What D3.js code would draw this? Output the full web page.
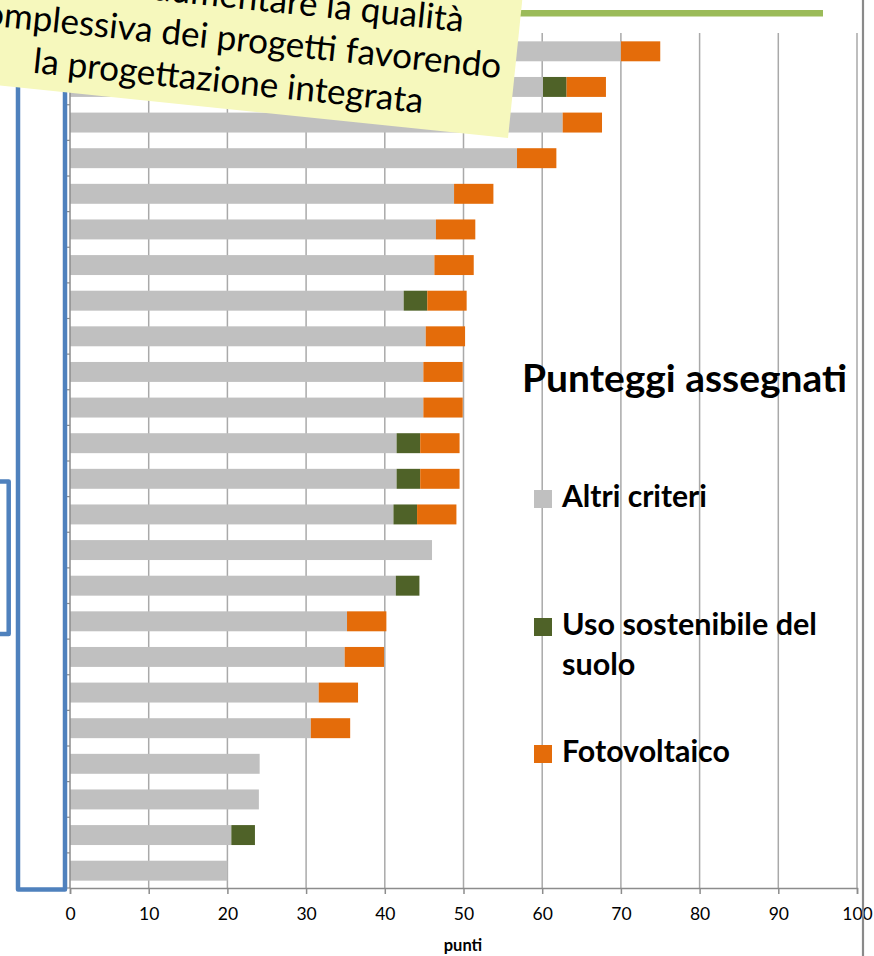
<!DOCTYPE html>
<html>
<head>
<meta charset="utf-8">
<script src="https://cdn.jsdelivr.net/npm/d3@7"></script>
<style>
  html, body { margin: 0; padding: 0; background: #ffffff; }
  svg { display: block; font-family: Lato, "Open Sans", sans-serif; }
</style>
</head>
<body>
<svg id="chart" width="874" height="956"></svg>
<script>
// ---- data ----
const categories = ["P1","P2","P3","P4","P5","P6","P7","P8","P9","P10","P11","P12",
                    "P13","P14","P15","P16","P17","P18","P19","P20","P21","P22","P23","P24"];
const altriCriteri = [70.0, 60.1, 62.6, 56.8, 48.8, 46.5, 46.3, 42.4, 45.2, 44.9, 44.9, 41.5,
                      41.5, 41.1, 46.0, 41.4, 35.2, 34.9, 31.6, 30.6, 24.1, 24.0, 20.5, 20.0];
const usoSuolo     = [0, 3, 0, 0, 0, 0, 0, 3, 0, 0, 0, 3,
                      3, 3, 0, 3, 0, 0, 0, 0, 0, 0, 3, 0];
const fotovoltaico = [5, 5, 5, 5, 5, 5, 5, 5, 5, 5, 5, 5,
                      5, 5, 0, 0, 5, 5, 5, 5, 0, 0, 0, 0];
const seriesNames  = ["Altri criteri", "Uso sostenibile del suolo", "Fotovoltaico"];
const xTicks       = [0, 10, 20, 30, 40, 50, 60, 70, 80, 90, 100];
const xTitle       = "punti";
const legendTitle  = "Punteggi assegnati";
const calloutLines = ["aumentare la qualità", "complessiva dei progetti favorendo", "la progettazione integrata"];

// ---- build ----
const colors = ["#c0c0c0", "#4f6228", "#e46c0a"];
const svg = d3.select("#chart");

const x = d3.scaleLinear().domain([0, 100]).range([70, 857]);
const y = d3.scaleBand().domain(categories).range([33.5, 888.5]).paddingInner(0.44).paddingOuter(0.22);

const rows = categories.map((c, i) => ({ cat: c, a: altriCriteri[i], s: usoSuolo[i], f: fotovoltaico[i] }));
const stack = d3.stack().keys(["a", "s", "f"])(rows);

// gridlines
svg.append("g").selectAll("line").data(xTicks.slice(1)).join("line")
  .attr("x1", d => x(d)).attr("x2", d => x(d))
  .attr("y1", 33).attr("y2", 888)
  .attr("stroke", "#a9a9a9").attr("stroke-width", 1.5);

// bars
svg.append("g").selectAll("g").data(stack).join("g")
  .attr("fill", (d, i) => colors[i])
  .selectAll("rect").data(d => d.filter(p => p[1] - p[0] > 0)).join("rect")
  .attr("x", d => x(d[0]))
  .attr("y", d => y(d.data.cat))
  .attr("width", d => x(d[1]) - x(d[0]))
  .attr("height", y.bandwidth());

// x axis
const xAxis = svg.append("g").attr("transform", "translate(0,888)")
  .call(d3.axisBottom(x).tickValues(xTicks).tickSize(6).tickPadding(14));
xAxis.select(".domain").attr("stroke", "#8c8c8c").attr("stroke-width", 1.5);
xAxis.selectAll(".tick line").attr("stroke", "#8c8c8c").attr("stroke-width", 1.5);
xAxis.selectAll(".tick text").attr("font-family", "Lato, sans-serif").attr("font-size", 17.5).attr("fill", "#000");

svg.append("text").attr("x", 463).attr("y", 951).attr("text-anchor", "middle")
  .attr("font-weight", "bold").attr("font-size", 16.5).text(xTitle);

// y axis line with ticks at band boundaries
const step = y.step();
const boundaries = categories.map(c => y(c) - (step - y.bandwidth()) / 2).concat([888]);
svg.append("line").attr("x1", 70).attr("x2", 70).attr("y1", 33).attr("y2", 888)
  .attr("stroke", "#8c8c8c").attr("stroke-width", 1.5);
svg.append("g").selectAll("line").data(boundaries).join("line")
  .attr("x1", 66).attr("x2", 70).attr("y1", d => d).attr("y2", d => d)
  .attr("stroke", "#8c8c8c").attr("stroke-width", 1.2);

// blue brackets
svg.append("path").attr("d", "M65,0 V889.5 H18 V0")
  .attr("fill", "none").attr("stroke", "#4f81bd").attr("stroke-width", 4.5).attr("stroke-linejoin", "round");
svg.append("path").attr("d", "M-3,481.5 H8.7 V634 H-3")
  .attr("fill", "none").attr("stroke", "#4f81bd").attr("stroke-width", 4.5).attr("stroke-linejoin", "round");

// green top line
svg.append("rect").attr("x", 300).attr("y", 10).attr("width", 523).attr("height", 6.5).attr("fill", "#9bbb59");

// slide right border
svg.append("line").attr("x1", 863).attr("x2", 863).attr("y1", 0).attr("y2", 956)
  .attr("stroke", "#8a8a8a").attr("stroke-width", 2.2);

// legend
svg.append("text").attr("x", 522).attr("y", 392).attr("font-weight", "bold")
  .attr("font-size", 33).attr("fill", "#000").text(legendTitle)
  .call(fitWidth, 325);
const legendItems = [
  { y: 490, lines: ["Altri criteri"], c: colors[0], w: 145 },
  { y: 618, lines: ["Uso sostenibile del", "suolo"], c: colors[1], w: 255 },
  { y: 745, lines: ["Fotovoltaico"], c: colors[2], w: 168 }
];
legendItems.forEach((it, i) => {
  svg.append("rect").attr("x", 534).attr("y", it.y).attr("width", 18).attr("height", 18).attr("fill", it.c);
  const t = svg.append("text").attr("x", 562).attr("y", it.y + 17).attr("font-weight", "bold")
    .attr("font-size", 25).attr("fill", "#000");
  it.lines.forEach((l, k) => t.append("tspan").attr("x", 562).attr("dy", k === 0 ? 0 : 40).text(l));
  fitWidth(t, it.w, true);
});

// callout (rotated sticky note)
const callout = svg.append("g").attr("transform", "translate(508,138) rotate(5.9)");
callout.append("rect").attr("x", -800).attr("y", -320).attr("width", 800).attr("height", 320).attr("fill", "#f6f8bd");
const cl3 = callout.append("text").attr("x", -284).attr("y", -16).attr("text-anchor", "middle")
  .attr("font-size", 30).attr("fill", "#000").text(calloutLines[2]);
fitWidth(cl3, 392);
const fs = +cl3.attr("font-size");
callout.append("text").attr("x", -282).attr("y", -58.5).attr("text-anchor", "middle")
  .attr("font-size", fs).attr("fill", "#000").text(calloutLines[1]);
callout.append("text").attr("x", -56).attr("y", -101).attr("text-anchor", "end")
  .attr("font-size", fs).attr("fill", "#000").text(calloutLines[0]);

function fitWidth(sel, target, firstOnly) {
  const node = sel.node();
  let w;
  if (firstOnly && node.firstChild && node.firstChild.getComputedTextLength) {
    w = node.firstChild.getComputedTextLength();
  } else {
    w = node.getComputedTextLength();
  }
  const f = +sel.attr("font-size");
  if (w > 0) sel.attr("font-size", (f * target / w).toFixed(2));
}
</script>
</body>
</html>
